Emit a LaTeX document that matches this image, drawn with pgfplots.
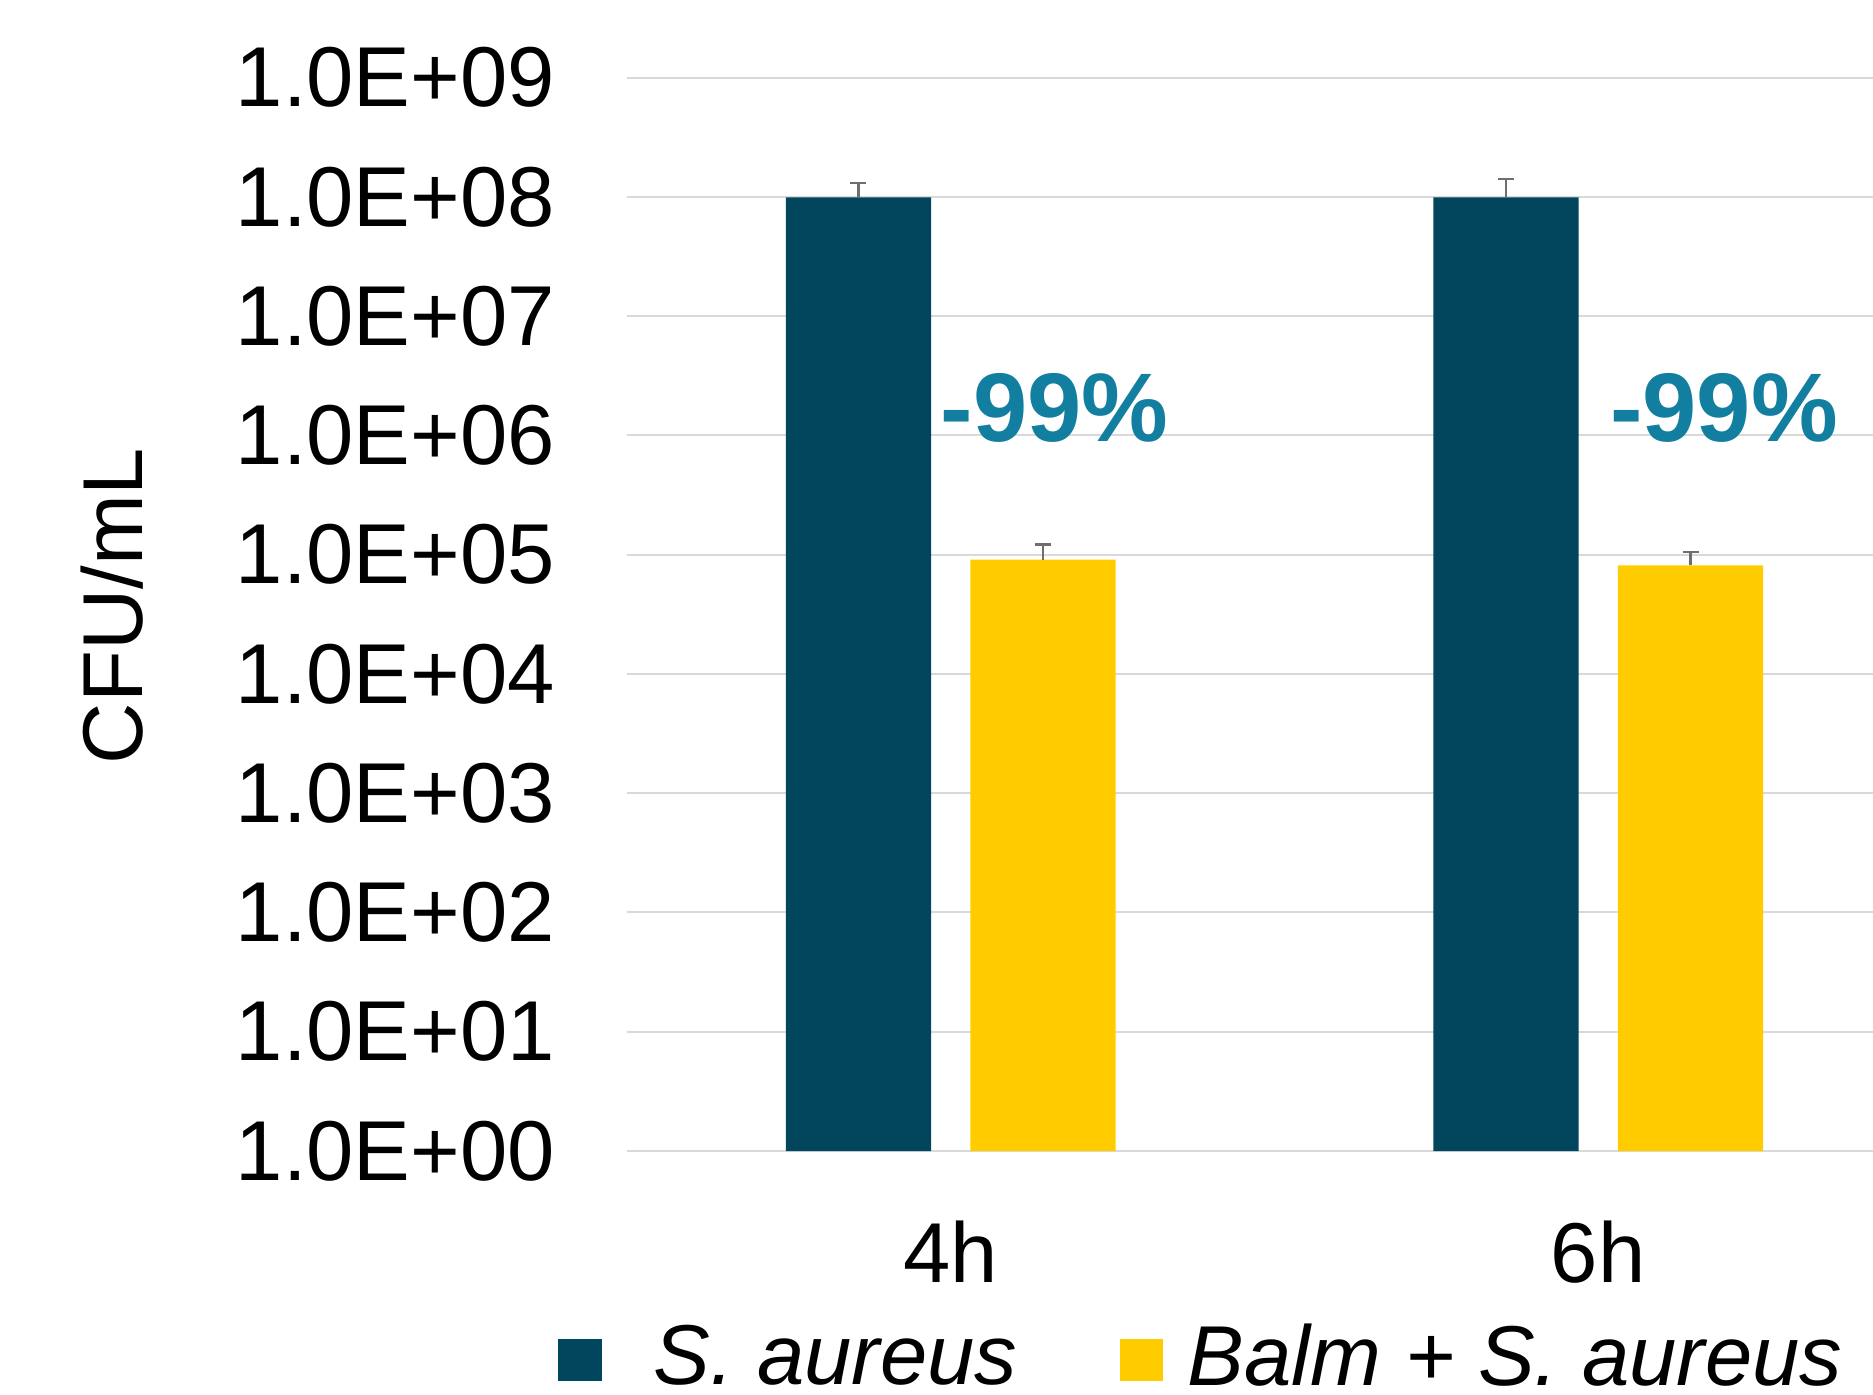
\documentclass[border=0pt]{standalone}
\usepackage{pgfplots}
\pgfplotsset{compat=1.18}
\usepackage{fontspec}
\setmainfont{Liberation Sans}
\definecolor{darkblue}{HTML}{02465E}
\definecolor{gold}{HTML}{FFCC00}
\definecolor{tealtxt}{HTML}{127EA0}
\definecolor{gridgray}{HTML}{D9D9D9}
\definecolor{errgray}{HTML}{6E6E6E}
\begin{document}
\begin{tikzpicture}
\useasboundingbox (0,0) rectangle (374.6pt,278.8pt);
\begin{axis}[
  at={(125.36pt,48.6pt)}, anchor=south west,
  scale only axis, width=249.24pt, height=214.7pt,
  ymode=log, ymin=1, ymax=1e9,
  xmin=-0.5, xmax=1.4244,
  axis line style={draw=none},
  major tick length=0pt,
  yminorticks=false,
  ytick={1,10,100,1000,10000,100000,1000000,10000000,100000000,1000000000},
  yticklabels={1.0E+00,1.0E+01,1.0E+02,1.0E+03,1.0E+04,1.0E+05,1.0E+06,1.0E+07,1.0E+08,1.0E+09},
  ymajorgrids, grid style={gridgray, line width=0.4pt},
  xtick={0,1}, xticklabels={4h,6h},
  tick label style={font=\fontsize{17}{20}\selectfont},
  yticklabel style={inner sep=0pt, anchor=east, xshift=-14.2pt},
  xticklabel style={inner sep=0pt, anchor=north, yshift=-13.8pt},
  ylabel={CFU/mL},
  ylabel style={font=\fontsize{17}{20}\selectfont, at={(axis description cs:-0.4127,0.5077)}, anchor=center, inner sep=0pt},
  legend columns=2,
  legend cell align=left,
  legend style={at={(axis description cs:-0.0552,-0.1615)}, anchor=north west, draw=none, fill=none,
    inner sep=0pt, outer sep=0pt, column sep=0pt,
    nodes={inner sep=0pt, font=\fontsize{17}{20}\selectfont\itshape},
    /tikz/every odd column/.append style={column sep=10.4pt},
    /tikz/every even column/.append style={column sep=20.5pt}},
  clip=false,
]
\addplot[ybar, bar width=0.2243, bar shift=0pt, fill=darkblue, draw=none,
  legend image code/.code={\fill[darkblue] (0pt,-4.4pt) rectangle (8.7pt,4.0pt);},
  error bars/.cd, y dir=plus, y explicit,
  error bar style={errgray, line width=0.5pt},
  error mark options={errgray, rotate=90, mark size=1.6pt, line width=0.5pt}]
  coordinates {(-0.1424,0.99e8) +- (0,0.32e8) (0.8576,0.99e8) +- (0,0.42e8)};
\addlegendentry{S. aureus}
\addplot[ybar, bar width=0.2243, bar shift=0pt, fill=gold, draw=none,
  legend image code/.code={\fill[gold] (0pt,-4.4pt) rectangle (8.7pt,4.0pt);},
  error bars/.cd, y dir=plus, y explicit,
  error bar style={errgray, line width=0.5pt},
  error mark options={errgray, rotate=90, mark size=1.6pt, line width=0.5pt}]
  coordinates {(0.1426,9.08e4) +- (0,3.1e4) (1.1426,8.13e4) +- (0,2.4e4)};
\addlegendentry{\hspace*{-5.5pt}Balm + S. aureus}
\node[anchor=base, text=tealtxt, font=\fontsize{19.5}{22}\selectfont\bfseries, inner sep=0pt] at (axis cs:0.1606,8.94e5) {-99\%};
\node[anchor=base, text=tealtxt, font=\fontsize{19.5}{22}\selectfont\bfseries, inner sep=0pt] at (axis cs:1.1943,8.94e5) {-99\%};
\end{axis}
\end{tikzpicture}
\end{document}
